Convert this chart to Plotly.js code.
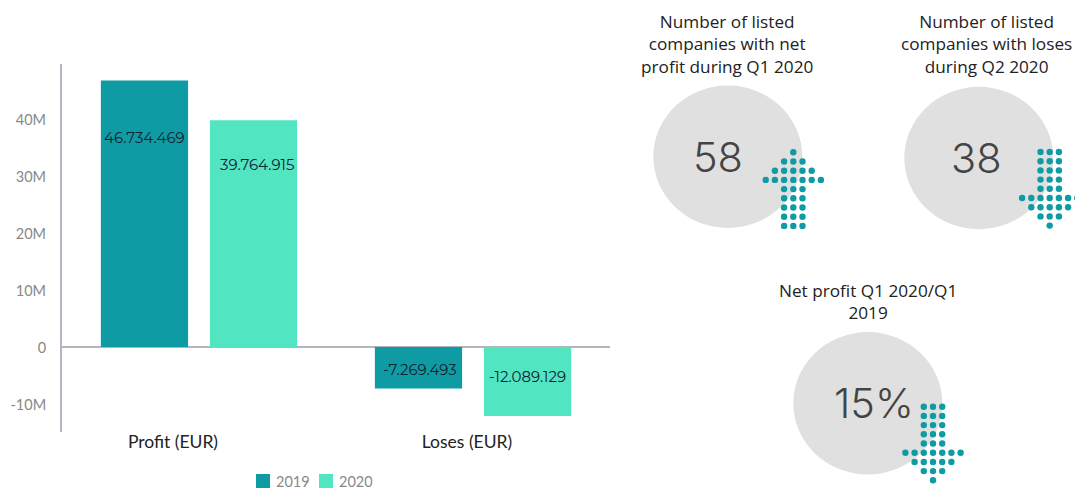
<!DOCTYPE html>
<html><head><meta charset="utf-8">
<script src="https://cdn.plot.ly/plotly-3.0.1.min.js"></script>
<style>html,body{margin:0;padding:0;background:#fff}</style></head>
<body><div id="chart" style="width:1075px;height:489px"></div>
<script>
const categories = ['Profit (EUR)', 'Loses (EUR)'];
const seriesNames = ['2019', '2020'];
const series2019 = [46734469, -7269493];
const series2020 = [39764915, -12089129];
const labels2019 = ['46.734.469', '-7.269.493'];
const labels2020 = ['39.764.915', '-12.089.129'];
const yTickVals = [-10e6, 0, 10e6, 20e6, 30e6, 40e6];
const yTickText = ['-10M', '0', '10M', '20M', '30M', '40M'];

const kpiTitles = ['Number of listed<br>companies with net<br>profit during Q1 2020',
                   'Number of listed<br>companies with loses<br>during Q2 2020',
                   'Net profit Q1 2020/Q1<br>2019'];
const kpiValues = ['58', '38', '15%'];
const circleX = [727.8, 978.8, 867.8];
const circleY = [156.7, 158, 403.3];
const upArrowRows = [1, 3, 5, 7, 3, 3, 3, 3, 3];
const downArrowRows = [3, 3, 3, 3, 3, 7, 5, 3, 1];

const W = 1075, H = 489, TEAL = '#0E9BA3', MINT = '#51E5C2';

function arrowDots(cx, topY, rows) {
  const xs = [], ys = [], step = 9.2;
  rows.forEach((n, r) => {
    for (let i = 0; i < n; i++) {
      xs.push(cx + (i - (n - 1) / 2) * step);
      ys.push(topY + r * step);
    }
  });
  return {xs, ys};
}
const a1 = arrowDots(793.3, 152.3, upArrowRows);
const a2 = arrowDots(1049.7, 152, downArrowRows);
const a3 = arrowDots(933, 406.7, downArrowRows);

const bar = (name, y, color) => ({type: 'bar', name, x: categories, y,
  marker: {color}, hoverinfo: 'skip', xaxis: 'x', yaxis: 'y', showlegend: false});

const data = [
  bar(seriesNames[0], series2019, TEAL),
  bar(seriesNames[1], series2020, MINT),
  {type: 'scatter', mode: 'markers', x: [...a1.xs, ...a2.xs, ...a3.xs], y: [...a1.ys, ...a2.ys, ...a3.ys],
   xaxis: 'x2', yaxis: 'y2', marker: {size: 6.4, color: TEAL, line: {width: 0}}, showlegend: false, hoverinfo: 'skip'},
  {type: 'scatter', mode: 'markers', x: [263, 326], y: [481, 481], xaxis: 'x2', yaxis: 'y2',
   marker: {size: 14, symbol: 'square', color: [TEAL, MINT], line: {width: 0}}, showlegend: false, hoverinfo: 'skip'}
];

const ellipse = (cx, cy) => ({type: 'circle', xref: 'x2', yref: 'y2', layer: 'below',
  x0: cx - 74.5, x1: cx + 74.5, y0: cy - 71.2, y1: cy + 71.2, fillcolor: '#E0E0E0', line: {width: 0}});

const barLabel = (x, y, text) => ({xref: 'x', yref: 'y', x, y, text, showarrow: false,
  font: {family: 'Montserrat, Inter, sans-serif', size: 15, color: '#123'}, xanchor: 'center', yanchor: 'middle'});
const titleNote = (x, y, text) => ({xref: 'x2', yref: 'y2', x, y, text, showarrow: false,
  font: {family: '"Open Sans", sans-serif', size: 17.2, color: '#222'}, align: 'center', xanchor: 'center', yanchor: 'middle'});
const valueNote = (x, y, text) => ({xref: 'x2', yref: 'y2', x, y, text, showarrow: false,
  font: {family: 'Inter, sans-serif', size: 41.5, color: '#444', weight: 300}, xanchor: 'center', yanchor: 'middle'});
const legendNote = (x, text) => ({xref: 'x2', yref: 'y2', x, y: 481, text, showarrow: false, height: 14, borderpad: 0,
  font: {family: 'Lato, sans-serif', size: 14.5, color: '#888'}, xanchor: 'left', yanchor: 'middle'});

const layout = {
  width: W, height: H, margin: {l: 0, r: 0, t: 0, b: 0, autoexpand: false},
  paper_bgcolor: '#fff', plot_bgcolor: 'rgba(0,0,0,0)',
  barmode: 'group', bargap: 0.204, bargroupgap: 0.2, showlegend: false,
  font: {family: 'Lato, sans-serif'},
  xaxis: {domain: [62 / W, 610 / W], type: 'category', range: [-0.5, 1.5], fixedrange: true,
    tickmode: 'array', tickvals: [-0.095, 0.978], ticktext: categories,
    tickfont: {family: 'Lato, sans-serif', size: 17.5, color: '#222'},
    showgrid: false, zeroline: false, showline: false, ticks: '', side: 'bottom', anchor: 'y', ticklabelstandoff: -3},
  yaxis: {domain: [1 - 432 / H, 1 - 64 / H], range: [-14.912e6, 49.65e6], fixedrange: true,
    tickmode: 'array', tickvals: yTickVals, ticktext: yTickText,
    tickfont: {family: 'Lato, sans-serif', size: 14.5, color: '#888'},
    showgrid: false, zeroline: true, zerolinecolor: '#B2B6BE', zerolinewidth: 2,
    showline: true, linecolor: '#B2B6BE', linewidth: 2, ticks: '', anchor: 'x', ticklabelstandoff: 11, ticklabelshift: 1},
  xaxis2: {domain: [0, 1], range: [0, W], visible: false, anchor: 'y2', fixedrange: true},
  yaxis2: {domain: [0, 1], range: [H, 0], visible: false, anchor: 'x2', fixedrange: true},
  shapes: circleX.map((cx, i) => ellipse(cx, circleY[i])),
  annotations: [
    barLabel(-0.198, 36.8e6, labels2019[0]),
    barLabel(0.213, 32.1e6, labels2020[0]),
    barLabel(0.808, -3.86e6, labels2019[1]),
    barLabel(1.2, -5.1e6, labels2020[1]),
    titleNote(727, 44, kpiTitles[0]),
    titleNote(986.6, 44, kpiTitles[1]),
    titleNote(868, 301.5, kpiTitles[2]),
    valueNote(718, 157, kpiValues[0]),
    valueNote(976, 158, kpiValues[1]),
    valueNote(874, 403, kpiValues[2]),
    legendNote(275, seriesNames[0]),
    legendNote(338, seriesNames[1])
  ]
};
Plotly.newPlot('chart', data, layout, {displayModeBar: false, responsive: false});
</script></body></html>
